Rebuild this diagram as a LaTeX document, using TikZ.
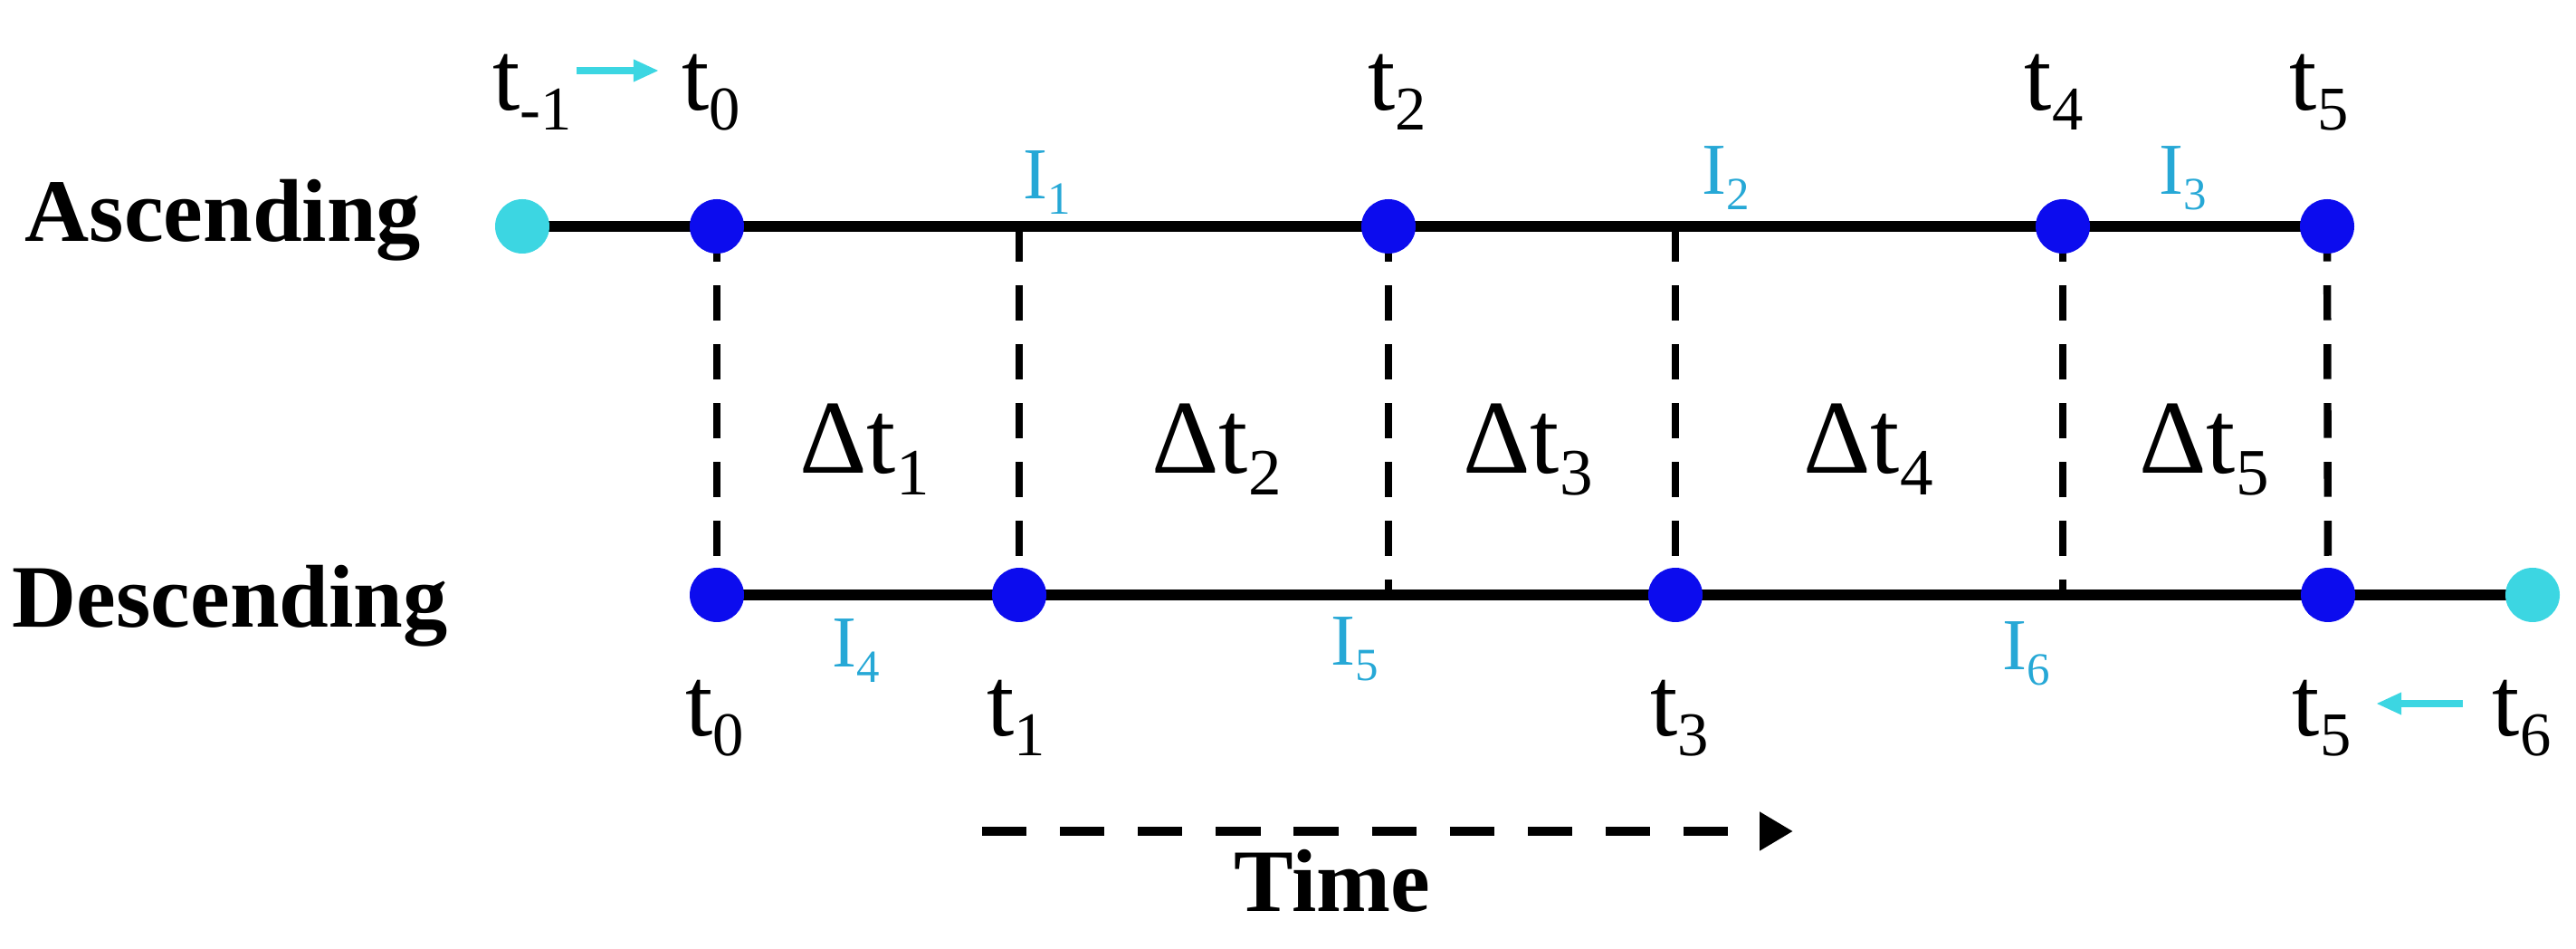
\documentclass[tikz,border=0pt]{standalone}
\usepackage{fontspec}
\setmainfont{Liberation Serif}
\usetikzlibrary{calc,arrows.meta,backgrounds}

\definecolor{dotblue}{RGB}{12,12,238}
\definecolor{dotcyan}{RGB}{60,214,226}
\definecolor{intcyan}{RGB}{38,168,214}

% tiefgestellter Index
\newcommand{\lowix}[1]{\raisebox{-0.2em}{\scalebox{0.63}{#1}}}

\tikzset{
  tdot/.style={circle,fill=#1,inner sep=0pt,minimum size=0.6cm},
  tdot/.default=dotblue,
  rowlab/.style={anchor=base west,inner sep=0pt,font=\fontsize{28}{30}\selectfont\bfseries},
  tlab/.style={anchor=base,inner sep=0pt,font=\fontsize{31}{33}\selectfont},
  dlab/.style={anchor=base,inner sep=0pt,font=\fontsize{33}{35}\selectfont},
  ilab/.style={anchor=base,inner sep=0pt,text=intcyan,font=\fontsize{23}{25}\selectfont},
  track/.style={line width=3.4pt},
  gap/.style={line width=2.4pt,dash pattern=on 11pt off 7.5pt},
  shiftarr/.style={dotcyan,line width=2.3pt,-{Triangle[length=8pt,width=6.5pt]}},
}

\begin{document}
\begin{tikzpicture}
  \useasboundingbox (0,0) rectangle (28.46,10.48);

  %--- Punkte (aufsteigend / absteigend)
  \node[tdot=dotcyan] (c0) at (5.77,7.98) {};
  \node[tdot] (a0) at (7.92,7.98) {};
  \node[tdot] (a2) at (15.34,7.98) {};
  \node[tdot] (a4) at (22.79,7.98) {};
  \node[tdot] (a5) at (25.71,7.98) {};

  \node[tdot] (d0) at (7.92,3.91) {};
  \node[tdot] (d1) at (11.26,3.91) {};
  \node[tdot] (d3) at (18.51,3.91) {};
  \node[tdot] (d5) at (25.72,3.91) {};
  \node[tdot=dotcyan] (c6) at (27.98,3.91) {};

  % Fusspunkte der Trennlinien ohne Punkt
  \coordinate (m1) at (d1 |- a0);
  \coordinate (m2) at (a2 |- d0);
  \coordinate (m3) at (d3 |- a0);
  \coordinate (m4) at (a4 |- d0);

  %--- Zeitachsen + gestrichelte Trennlinien
  \begin{scope}[on background layer]
    \draw[track] (c0.center) -- (a5.center);
    \draw[track] (d0.center) -- (c6.center);
    \draw[gap] (a0.center) -- (d0.center);
    \draw[gap] (m1) -- (d1.center);
    \draw[gap] (a2.center) -- (m2);
    \draw[gap] (m3) -- (d3.center);
    \draw[gap] (a4.center) -- (m4);
    \draw[gap] (a5.center) -- (d5.center);
  \end{scope}

  %--- Zeilenbeschriftung
  \node[rowlab] (asc) at (0.27,7.81) {Ascending};
  \node[rowlab] (desc) at (0.13,3.55) {Descending};

  %--- Zeitpunkte oben
  \node[tlab] (tm1) at ($(c0)+(0.11,1.28)$) {t\lowix{-1}};
  \node[tlab] (ta0) at ($(a0)+(-0.06,1.28)$) {t\lowix{0}};
  \node[tlab] (ta2) at ($(a2)+(0.1,1.28)$) {t\lowix{2}};
  \node[tlab] (ta4) at ($(a4)+(-0.1,1.28)$) {t\lowix{4}};
  \node[tlab] (ta5) at ($(a5)+(-0.09,1.28)$) {t\lowix{5}};

  %--- Zeitpunkte unten
  \node[tlab] (td0) at ($(d0)+(-0.02,-1.56)$) {t\lowix{0}};
  \node[tlab] (td1) at ($(d1)+(-0.03,-1.56)$) {t\lowix{1}};
  \node[tlab] (td3) at ($(d3)+(0.05,-1.56)$) {t\lowix{3}};
  \node[tlab] (td5) at ($(d5)+(-0.07,-1.56)$) {t\lowix{5}};
  \node[tlab] (tc6) at ($(c6)+(-0.12,-1.56)$) {t\lowix{6}};

  % Verschiebung der Randpunkte
  \draw[shiftarr] ($(tm1.base east)+(0.05,0.44)$) -- ($(ta0.base west)+(-0.25,0.44)$);
  \draw[shiftarr] ($(tc6.base west)+(-0.32,0.36)$) -- ($(td5.base east)+(0.27,0.36)$);

  %--- Intervalle I
  \foreach \x/\y/\k in {11.57/8.28/1,19.07/8.33/2,24.12/8.33/3,9.46/3.11/4,14.97/3.13/5,22.39/3.08/6}
    \node[ilab] (i\k) at (\x,\y) {I\lowix{\k}};

  %--- Differenzen
  \foreach \x/\k in {9.55/1,13.44/2,16.88/3,20.64/4,24.35/5}
    \node[dlab] (dt\k) at (\x,5.25) {Δt\lowix{\k}};

  %--- Zeitpfeil
  \coordinate (ts) at (10.85,1.30);
  \coordinate (te) at (19.81,1.30);
  \draw[line width=2.8pt,dash pattern=on 14pt off 10.5pt,-{Triangle[length=10.5pt,width=11.5pt]}] (ts) -- (te);
  \node[rowlab,anchor=base] (time) at (14.72,0.41) {Time};
\end{tikzpicture}
\end{document}
